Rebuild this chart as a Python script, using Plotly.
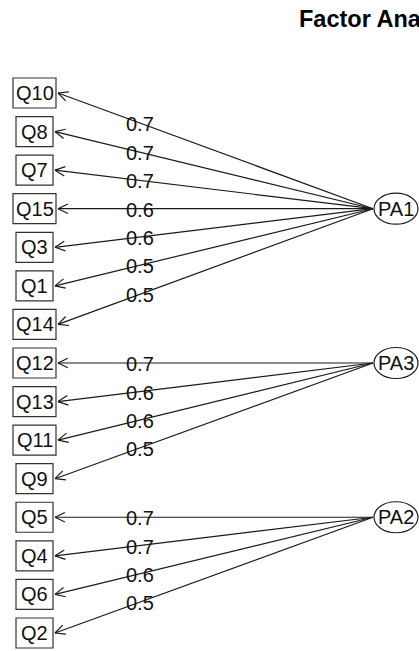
import math
import plotly.graph_objects as go

# ---- data ----
factors = ["PA1", "PA3", "PA2"]
factor_items = {
    "PA1": ["Q10", "Q8", "Q7", "Q15", "Q3", "Q1", "Q14"],
    "PA3": ["Q12", "Q13", "Q11", "Q9"],
    "PA2": ["Q5", "Q4", "Q6", "Q2"],
}
factor_loadings = {
    "PA1": [0.7, 0.7, 0.7, 0.6, 0.6, 0.5, 0.5],
    "PA3": [0.7, 0.6, 0.6, 0.5],
    "PA2": [0.7, 0.7, 0.6, 0.5],
}
factor_slots = [3, 7, 11]
title = "Factor Analysis"

# ---- layout constants (pixel space) ----
W, H = 419, 651
top, step = 93.0, 38.57
box_cx, box_h = 34.5, 30
ell_cx, ell_rx, ell_ry = 396, 22, 15.5
FONT = "Liberation Sans, Arial, sans-serif"
FS = 20
LC = "#1a1a1a"

def row_y(i):
    return top + step * i

fig = go.Figure()
shapes, annos = [], []
lx, ly = [], []

row = 0
for f, slot in zip(factors, factor_slots):
    fy = row_y(slot)
    fx = ell_cx - ell_rx - 1
    shapes.append(dict(type="circle", xref="x", yref="y",
                       x0=ell_cx - ell_rx, x1=ell_cx + ell_rx,
                       y0=fy - ell_ry, y1=fy + ell_ry,
                       line=dict(color=LC, width=1.2), fillcolor="rgba(0,0,0,0)"))
    annos.append(dict(x=ell_cx, y=fy, text=f, showarrow=False,
                      font=dict(family=FONT, size=FS, color="#111")))
    for item, val in zip(factor_items[f], factor_loadings[f]):
        y = row_y(row)
        bw = 43 if len(item) == 3 else 37
        shapes.append(dict(type="rect", xref="x", yref="y",
                           x0=box_cx - bw / 2, x1=box_cx + bw / 2,
                           y0=y - box_h / 2, y1=y + box_h / 2,
                           line=dict(color="#333", width=1.2)))
        annos.append(dict(x=box_cx, y=y, text=item, showarrow=False,
                          font=dict(family=FONT, size=FS, color="#111")))
        tipx = box_cx + bw / 2 + 2
        lx += [tipx, fx, None]
        ly += [y, fy, None]
        ang = math.atan2(fy - y, fx - tipx)
        for d in (0.45, -0.45):
            lx += [tipx, tipx + 11 * math.cos(ang + d), None]
            ly += [y, y + 11 * math.sin(ang + d), None]
        t = (140 - tipx) / (fx - tipx)
        annos.append(dict(x=140, y=y + t * (fy - y) + 1, text=f"{val:.1f}",
                          showarrow=False,
                          font=dict(family=FONT, size=FS, color="#111")))
        row += 1

fig.add_trace(go.Scatter(x=lx, y=ly, mode="lines",
                         line=dict(color=LC, width=1.2),
                         hoverinfo="skip", showlegend=False))

annos.append(dict(x=297, y=18.5, text="<b>" + title + "</b>", showarrow=False,
                  xanchor="left", font=dict(family=FONT, size=23.5, color="#000")))

fig.update_layout(
    width=W, height=H, margin=dict(l=0, r=0, t=0, b=0),
    paper_bgcolor="white", plot_bgcolor="white",
    xaxis=dict(range=[0, W], visible=False, fixedrange=True),
    yaxis=dict(range=[H, 0], visible=False, fixedrange=True),
    shapes=shapes, annotations=annos, showlegend=False,
)
fig.write_html("out.html",
               config={"displayModeBar": False},
               post_script="document.body.style.margin='0px';"
                           "document.body.style.overflow='hidden';")
